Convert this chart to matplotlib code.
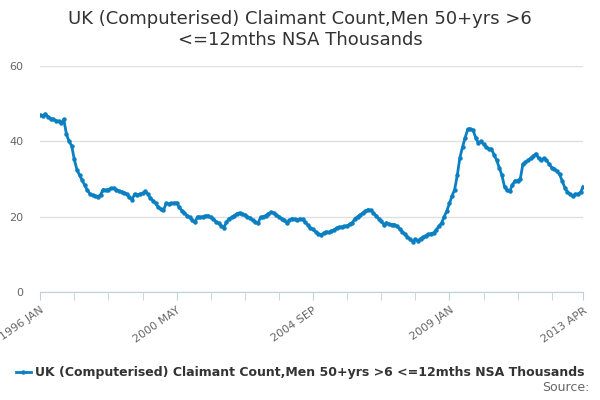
import matplotlib
matplotlib.use("Agg")
import matplotlib.pyplot as plt

values = [47,46.8,47.3,46.5,46,45.8,45.5,45.3,44.8,45.8,
41.9,40,38.8,35.2,32.5,31,29.7,28.3,27,26,
25.7,25.5,25.3,25.8,27.2,27,27.2,27.5,27.6,27.2,
26.8,26.6,26.3,26,25.2,24.5,26,25.8,26,26.2,
26.7,26,25,24.2,23.5,22.5,22,21.7,23.5,23.4,
23.5,23.6,23.7,22.5,21.6,21,20.3,19.8,19,18.5,
20,19.8,20,20.2,20.3,19.8,19.3,18.7,18.2,17.6,
17.1,18.5,19.5,19.8,20.3,20.8,21,20.8,20.5,20,
19.6,19,18.6,18.2,19.8,20,20.3,20.8,21.2,21,
20.5,20,19.5,19,18.4,19,19.5,19.3,19.2,19.4,
19.3,18.5,17.8,17,16.6,16,15.5,15.2,15.6,16,
15.8,16.2,16.5,17,17.2,17.3,17.4,17.6,18,18.4,
19.5,20,20.5,21,21.5,21.9,21.7,21,20.3,19.5,
18.8,17.9,18.4,18,17.9,17.9,17.5,16.8,16,15.3,
14.6,14,13.4,14,13.6,14.2,14.6,15,15.3,15.5,
15.7,16.5,17.5,18.3,20,21.5,23.5,25.5,27.2,31,
35.7,38.5,41,43.2,43.3,43,41,39.6,40,39.2,
38.5,38,37.9,36.5,35,33,31,28,27,26.7,
28.5,29.5,29.6,30,33.9,34.5,35,35.5,36.1,36.7,
35.5,35,35.5,35,34,33,32.7,32,31.2,29.5,
27.7,26.5,26,25.4,26,26,26.5,28]
tick_pos = [0, 52, 104, 156, 207]
tick_labels = ["1996 JAN", "2000 MAY", "2004 SEP", "2009 JAN", "2013 APR"]
yticks = [0, 20, 40, 60]
series_name = "UK (Computerised) Claimant Count,Men 50+yrs >6 <=12mths NSA Thousands"

fig = plt.figure(figsize=(6, 4), dpi=100)
ax = fig.add_axes([0.067, 0.27, 0.905, 0.565])
color = "#0a7fc2"
x = list(range(len(values)))
ax.plot(x, values, color=color, lw=2, marker="o", ms=2.2)
ax.set_xlim(0, 207)
ax.set_ylim(0, 60)
ax.set_yticks(yticks)
ax.tick_params(axis="y", length=0, labelsize=8, colors="#666666", pad=12)
ax.grid(axis="y", color="#e0e0e0", lw=1)
ax.set_axisbelow(True)
for s in ["top", "right", "left"]:
    ax.spines[s].set_visible(False)
ax.spines["bottom"].set_color("#c0d0e0")
ax.set_xticks(list(range(0, 208, 13)) + [207], minor=True)
ax.set_xticks(tick_pos)
ax.set_xticklabels(tick_labels, rotation=35, ha="right", rotation_mode="anchor")
ax.tick_params(axis="x", which="both", length=6, color="#c0d0e0", labelsize=8, labelcolor="#666666")
fig.text(0.5, 0.975, "UK (Computerised) Claimant Count,Men 50+yrs >6\n<=12mths NSA Thousands",
         ha="center", va="top", fontsize=13, color="#333333")
ax.plot([], [], color=color, lw=2, marker="o", ms=2.2, label=series_name)
ax.legend(loc="center", bbox_to_anchor=(0.5, 0.0677), bbox_transform=fig.transFigure,
          frameon=False, prop={"size": 9, "weight": "bold"}, labelcolor="#333333",
          handlelength=1.2, handletextpad=0.3)
fig.text(0.982, 0.015, "Source:", ha="right", va="bottom", fontsize=9, color="#666666")
fig.savefig("out.png")
